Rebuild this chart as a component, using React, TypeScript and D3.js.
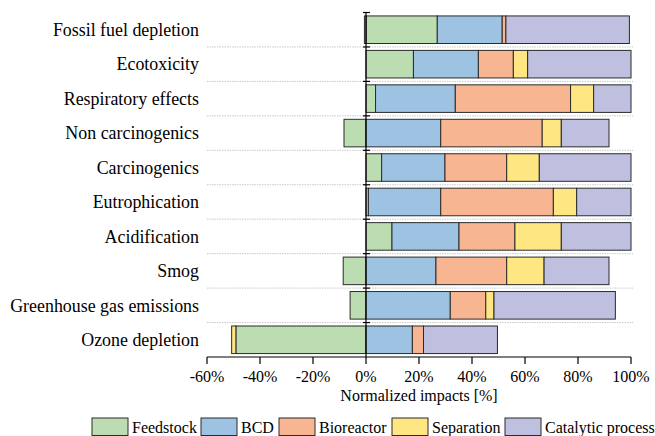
import React from 'react';
import * as d3 from 'd3';

const categories = [
  'Fossil fuel depletion',
  'Ecotoxicity',
  'Respiratory effects',
  'Non carcinogenics',
  'Carcinogenics',
  'Eutrophication',
  'Acidification',
  'Smog',
  'Greenhouse gas emissions',
  'Ozone depletion',
];

const stages = ['Feedstock', 'BCD', 'Bioreactor', 'Separation', 'Catalytic process'];

// contribution of each stage (%), in category order
const feedstock = [26.9, 17.9, 3.6, -8.3, 5.9, 0.9, 9.8, -8.6, -6.0, -49.1];
const bcd = [24.5, 24.5, 30.1, 28.2, 23.9, 27.3, 25.3, 26.4, 31.8, 17.5];
const bioreactor = [1.4, 13.2, 43.5, 38.3, 23.3, 42.5, 21.1, 26.7, 13.4, 4.2];
const separation = [-0.6, 5.4, 8.7, 7.2, 12.3, 8.8, 17.5, 14.1, 3.1, -1.6];
const catalytic = [46.6, 39.0, 14.1, 18.0, 34.6, 20.5, 26.3, 24.5, 45.8, 27.9];

const xTicks = [-60, -40, -20, 0, 20, 40, 60, 80, 100];

const colors = ['#bcddb1', '#9dc2e2', '#f8b592', '#fee782', '#bfbfdf'];

const font = "'Liberation Serif', 'Times New Roman', Times, 'DejaVu Serif', serif";

export default function App() {
  const width = 655;
  const height = 436;
  const margin = { top: 12.5, right: 24, bottom: 79, left: 207 };

  const x = d3.scaleLinear()
    .domain([-60, 100])
    .range([margin.left, width - margin.right]);

  const y = d3.scaleBand<string>()
    .domain(categories)
    .range([margin.top, height - margin.bottom])
    .paddingInner(0.2)
    .paddingOuter(0.1);

  const rows = categories.map((c, i) => ({
    category: c,
    Feedstock: feedstock[i],
    BCD: bcd[i],
    Bioreactor: bioreactor[i],
    Separation: separation[i],
    'Catalytic process': catalytic[i],
  }));

  const series = d3.stack<any>()
    .keys(stages)
    .offset(d3.stackOffsetDiverging)(rows);

  const step = y.step();
  const bottom = height - margin.bottom;
  // separators between rows
  const seps = categories.slice(1).map(c => (y(c) as number) - step * 0.1);
  const yTicks = [margin.top, ...seps];

  // legend layout
  const legendX = [92, 201, 279, 392, 505];

  return (
    <svg width={width} height={height} style={{ position: 'absolute', left: 0, top: 0, fontFamily: font }}>
      {seps.map((s, i) => (
        <line key={i} x1={x(-60)} x2={x(100) + 2} y1={s} y2={s}
          stroke="#c8c8c8" strokeWidth={1} strokeDasharray="1.5,1" />
      ))}
      {series.map((s, si) => (
        <g key={s.key} fill={colors[si]} stroke="#2b2b2b" strokeWidth={1}>
          {s.map((d, i) => {
            const x0 = x(Math.min(d[0], d[1]));
            const x1 = x(Math.max(d[0], d[1]));
            if (x1 - x0 < 0.01) return null;
            return (
              <rect key={i} x={x0} y={y(categories[i])} width={x1 - x0}
                height={y.bandwidth()} />
            );
          })}
        </g>
      ))}
      {/* zero axis */}
      <line x1={x(0)} x2={x(0)} y1={margin.top} y2={bottom} stroke="#000" strokeWidth={1.2} />
      {yTicks.map((t, i) => (
        <line key={i} x1={x(0) - 3} x2={x(0) + 4} y1={t} y2={t} stroke="#000" strokeWidth={1.2} />
      ))}
      {categories.map(c => (
        <text key={c} x={199} y={(y(c) as number) + y.bandwidth() / 2} dy="0.35em"
          textAnchor="end" fontSize={17.9} fill="#000" style={{ fontFamily: font }}>{c}</text>
      ))}
      {/* x axis */}
      <line x1={x(-60)} x2={x(100)} y1={bottom} y2={bottom} stroke="#000" strokeWidth={1.2} />
      {xTicks.map(t => (
        <g key={t}>
          <line x1={x(t)} x2={x(t)} y1={bottom} y2={bottom + 7} stroke="#000" strokeWidth={1.2} />
          <text x={x(t)} y={382} textAnchor="middle" fontSize={16} fill="#000" style={{ fontFamily: font }}>{t}%</text>
        </g>
      ))}
      <text x={(x(-60) + x(100)) / 2} y={401} textAnchor="middle" fontSize={16} fill="#000" style={{ fontFamily: font }}>
        Normalized impacts [%]
      </text>
      {stages.map((s, i) => (
        <g key={s}>
          <rect x={legendX[i]} y={418} width={36} height={17.5} fill={colors[i]} stroke="#2b2b2b" strokeWidth={1} />
          <text x={legendX[i] + 40} y={433} fontSize={16} fill="#000" style={{ fontFamily: font }}>{s}</text>
        </g>
      ))}
    </svg>
  );
}
